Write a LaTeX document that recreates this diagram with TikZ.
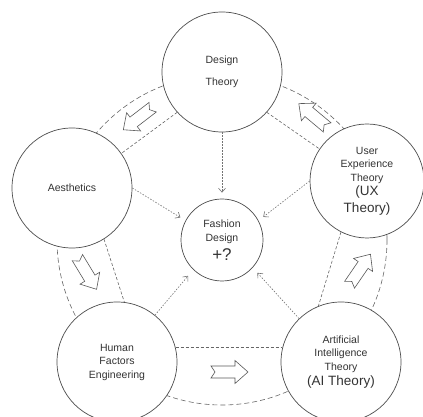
\documentclass[tikz,border=0pt]{standalone}
\usepackage{fontspec}
\setmainfont{Liberation Sans}
\usetikzlibrary{arrows.meta}
\begin{document}
\begin{tikzpicture}[x=1pt,y=1pt,
  circ/.style={circle,draw=black!70,line width=0.7pt,fill=white,minimum size=120pt,inner sep=0pt,align=center,text=black!80,font=\fontsize{10.5}{13.5}\selectfont},
  inner/.style={draw=black!60,line width=0.6pt,dash pattern=on 3pt off 2pt},
  outer/.style={draw=black!60,line width=0.6pt,dash pattern=on 5pt off 3pt},
  feed/.style={draw=black!55,line width=0.6pt,dash pattern=on 1.5pt off 1.5pt,-{Straight Barb[length=4pt,width=7pt]}},
  blk/.style={draw=black!65,line width=0.6pt,fill=white},
  barrow/.pic={\path[blk] (-18.5,6) -- (5.5,6) -- (5.5,11.5) -- (18.5,0) -- (5.5,-11.5) -- (5.5,-6) -- (-18.5,-6) -- (-14.5,0) -- cycle;}
]
\useasboundingbox (0,0) rectangle (423,417);
\draw[outer] (222,177) circle (165);

\node[circ] (D) at (222,345) {Design\\[8.5pt]Theory};
\node[circ] (A) at (72,229) {Aesthetics};
\node[circ,minimum size=114pt] (U) at (367,236) {User\\Experience\\Theory\\[1pt]{\fontsize{13.5}{16}\selectfont (UX}\\[3pt]{\fontsize{13.5}{16}\selectfont Theory)}};
\node[circ] (H) at (117,55) {Human\\Factors\\Engineering};
\node[circ] (I) at (341,55) {Artificial\\Intelligence\\Theory\\[2pt]{\fontsize{13.5}{16}\selectfont (AI Theory)}};
\node[circ,minimum size=82pt] (F) at (222,177) {Fashion\\Design\\[4pt]{\fontsize{17}{17}\selectfont +?}};

\draw[inner] (D.222) -- (A.35);
\draw[inner] (D.318) -- (U.146);
\draw[inner] (A.302) -- (H.83);
\draw[inner] (H.14) -- (I.166);
\draw[inner] (U.243) -- (I.112);

\draw[feed,shorten >=6pt] (D.south) -- (F.north);
\draw[feed,shorten >=6pt] (A.0) -- (F.152);
\draw[feed,shorten >=6pt] (U.180) -- (F.28);
\draw[feed,shorten >=8pt] (H.51) -- (F.226);
\draw[feed,shorten >=7pt] (I.134) -- (F.318);

\path (138,298.5) pic[rotate=217.5] {barrow};
\path (87,143.5) pic[rotate=-58.8] {barrow};
\path (229.5,45) pic {barrow};
\path (360,147.5) pic[rotate=55.6] {barrow};
\path (313,301.5) pic[rotate=140] {barrow};
\end{tikzpicture}
\end{document}
